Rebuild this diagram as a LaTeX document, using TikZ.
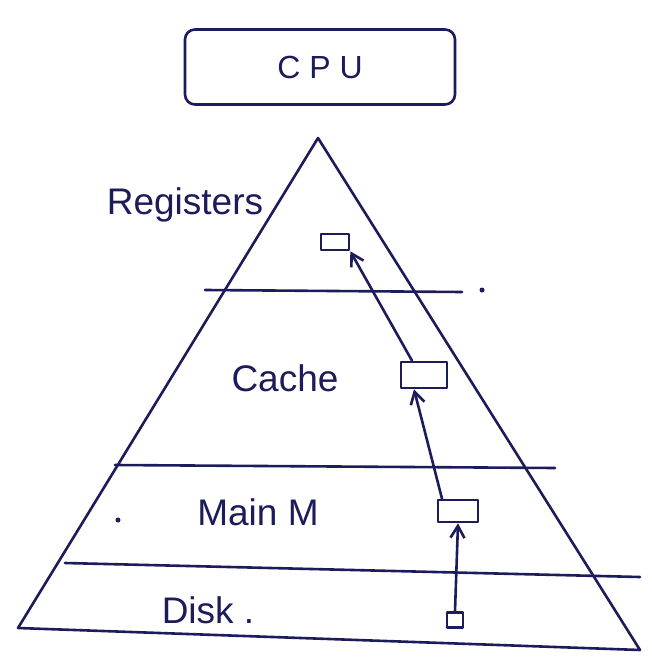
\documentclass[tikz,border=0pt]{standalone}
\usepackage{fontspec}
\setmainfont{Liberation Sans}
\usetikzlibrary{arrows.meta}
\definecolor{ink}{RGB}{28,28,90}
\begin{document}
\begin{tikzpicture}[x=1pt,y=-1pt,
  pen/.style={draw=ink,line width=2.6pt,line cap=round,line join=round},
  lbl/.style={text=ink,font=\fontsize{37}{42}\selectfont,inner sep=0pt},
  upar/.style={pen,-{Straight Barb[length=12pt,width=14pt]}}]
\useasboundingbox (0,0) rectangle (652,669);
\fill[white] (0,0) rectangle (652,669);
% CPU
\node[pen,rounded corners=10pt,minimum width=270pt,minimum height=75pt,
  text=ink,font=\fontsize{32}{38}\selectfont] (cpu) at (320,67) {C P U};
% pyramid
\coordinate (apex) at (318,138);
\coordinate (bl) at (18,628);
\coordinate (br) at (640,650);
\draw[pen] (apex) -- (br) -- (bl) -- cycle;
% level lines
\coordinate (l1a) at (205,290); \coordinate (l1b) at (462,292);
\coordinate (l2a) at (115,465); \coordinate (l2b) at (555,468);
\coordinate (l3a) at (65,563); \coordinate (l3b) at (640,577);
\draw[pen] (l1a) -- (l1b);
\draw[pen] (l2a) -- (l2b);
\draw[pen] (l3a) -- (l3b);
% labels
\node[lbl] (reg) at (185,205) {Registers};
\node[lbl] (cache) at (285,378) {Cache};
\node[lbl] (mainm) at (258,512) {Main M};
\node[lbl] (disk) at (208,610) {Disk .};
% small boxes
\node[pen,minimum width=28pt,minimum height=16pt,inner sep=0pt] (rbox) at (335,242) {};
\node[pen,minimum width=46pt,minimum height=26pt,inner sep=0pt] (cbox) at (424,375) {};
\node[pen,minimum width=40pt,minimum height=22pt,inner sep=0pt] (mbox) at (458,511) {};
\node[pen,minimum width=16pt,minimum height=15pt,inner sep=0pt] (dbox) at (455,620) {};
% arrows
\draw[upar] (dbox.north) -- (mbox.south);
\draw[upar] ([xshift=-16pt]mbox.north) -- ([xshift=-10pt]cbox.south);
\draw[upar] ([xshift=-12pt]cbox.north) -- (rbox.south east);
% dots
\fill[ink] (118,520) circle (2.5pt);
\fill[ink] (482,290) circle (2.5pt);
\end{tikzpicture}
\end{document}
